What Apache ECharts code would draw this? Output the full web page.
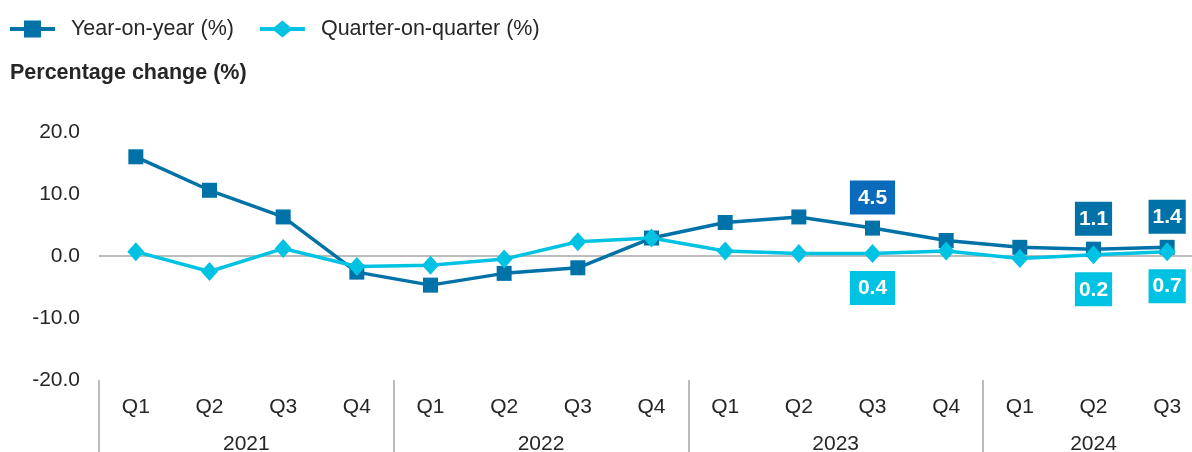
<!DOCTYPE html>
<html>
<head>
<meta charset="utf-8">
<title>Percentage change</title>
<script src="https://cdn.jsdelivr.net/npm/echarts@6/dist/echarts.min.js"></script>
<style>
    html, body { margin: 0; padding: 0; background: #fff; }
    #chart { width: 1192px; height: 452px; }
</style>
</head>
<body>
<div id="chart"></div>
<script>
    // data
    var quarters = ['Q1', 'Q2', 'Q3', 'Q4', 'Q1', 'Q2', 'Q3', 'Q4', 'Q1', 'Q2', 'Q3', 'Q4', 'Q1', 'Q2', 'Q3'];
    var years = ['2021', '2022', '2023', '2024'];
    var quartersInYear = [4, 4, 4, 3];
    var yoy = [16.0, 10.6, 6.3, -2.6, -4.7, -2.8, -1.9, 2.9, 5.4, 6.3, 4.5, 2.5, 1.4, 1.1, 1.4];
    var qoq = [0.7, -2.5, 1.2, -1.7, -1.5, -0.5, 2.3, 2.9, 0.8, 0.4, 0.4, 0.8, -0.4, 0.2, 0.7];
    var labelled = [10, 13, 14];
    var yTicks = [-20, -10, 0, 10, 20];

    var font = '"Liberation Sans", Arial, sans-serif';
    var textColor = '#262626';
    var yoyColor = '#0072a8';
    var qoqColor = '#00c2e2';

    // year axis: half-quarter steps so each year label sits in the middle of its quarters
    var yearSlots = [];
    var yearStarts = [];
    var pos = 0;
    for (var i = 0; i <= quarters.length * 2; i++) yearSlots.push('');
    for (var k = 0; k < years.length; k++) {
        yearStarts.push(pos);
        yearSlots[pos + quartersInYear[k]] = years[k];
        pos += quartersInYear[k] * 2;
    }

    function withLabels(values, bg, place, dist) {
        return values.map(function (v, idx) {
            if (labelled.indexOf(idx) < 0) return v;
            var side = idx === 10 ? 8 : 4;
            return {
                value: v,
                label: {
                    show: true,
                    position: place,
                    distance: dist,
                    formatter: function (p) { return p.value.toFixed(1); },
                    color: '#fff',
                    fontWeight: 'bold',
                    fontSize: 21,
                    fontFamily: font,
                    backgroundColor: (idx === 10 && place === 'top') ? '#0a6bbd' : bg,
                    padding: [7, side, 6, side]
                }
            };
        });
    }

    var myecharts = echarts.init(document.getElementById('chart'));
    var option = {
        animation: false,
        title: {
            text: 'Percentage change (%)',
            left: 10,
            top: 62,
            padding: 0,
            textStyle: { fontSize: 21.5, fontWeight: 'bold', color: textColor, fontFamily: font }
        },
        legend: {
            left: 10,
            top: 18,
            padding: 0,
            itemWidth: 45,
            itemHeight: 17,
            itemGap: 26,
            textStyle: { fontSize: 21.5, color: textColor, fontFamily: font, padding: [0, 0, 0, 11] },
            data: [{
                name: 'Year-on-year (%)',
                icon: 'path://M0,6.5H14V0H31V6.5H45V10.5H31V17H14V10.5H0Z'
            }, {
                name: 'Quarter-on-quarter (%)',
                icon: 'path://M0,6.5H14.5L22.5,0L30.5,6.5H45V10.5H30.5L22.5,17L14.5,10.5H0Z'
            }]
        },
        grid: { left: 99, width: 1105, top: 132, bottom: 72, outerBoundsMode: 'none', containLabel: false },
        xAxis: [{
            type: 'category',
            data: quarters,
            axisLine: { show: false },
            axisTick: { show: false },
            axisLabel: { interval: 0, margin: 17, fontSize: 21, color: textColor, fontFamily: font }
        }, {
            type: 'category',
            position: 'bottom',
            boundaryGap: false,
            data: yearSlots,
            axisLine: { show: false },
            axisTick: {
                show: true,
                length: 72,
                interval: function (idx) { return yearStarts.indexOf(idx) >= 0; },
                lineStyle: { color: '#a6a6a6', width: 1.5 }
            },
            axisLabel: { interval: 0, margin: 54, fontSize: 21, color: textColor, fontFamily: font }
        }],
        yAxis: {
            type: 'value',
            min: yTicks[0],
            max: yTicks[yTicks.length - 1],
            interval: 10,
            splitLine: { show: false },
            axisLine: { show: false },
            axisTick: { show: false },
            axisLabel: {
                margin: 19,
                fontSize: 21,
                color: textColor,
                fontFamily: font,
                formatter: function (v) { return v.toFixed(1); }
            }
        },
        series: [{
            name: 'Year-on-year (%)',
            type: 'line',
            data: withLabels(yoy, yoyColor, 'top', 6),
            symbol: 'rect',
            symbolSize: 15,
            itemStyle: { color: yoyColor },
            lineStyle: { width: 3.5, color: yoyColor },
            markLine: {
                silent: true,
                z: 1,
                symbol: 'none',
                label: { show: false },
                lineStyle: { color: '#a6a6a6', type: 'solid', width: 1.5 },
                data: [{ yAxis: 0 }]
            }
        }, {
            name: 'Quarter-on-quarter (%)',
            type: 'line',
            data: withLabels(qoq, qoqColor, 'bottom', 8),
            symbol: 'diamond',
            symbolSize: [17, 19],
            itemStyle: { color: qoqColor },
            lineStyle: { width: 3.5, color: qoqColor }
        }]
    };
    myecharts.setOption(option);
</script>
</body>
</html>
